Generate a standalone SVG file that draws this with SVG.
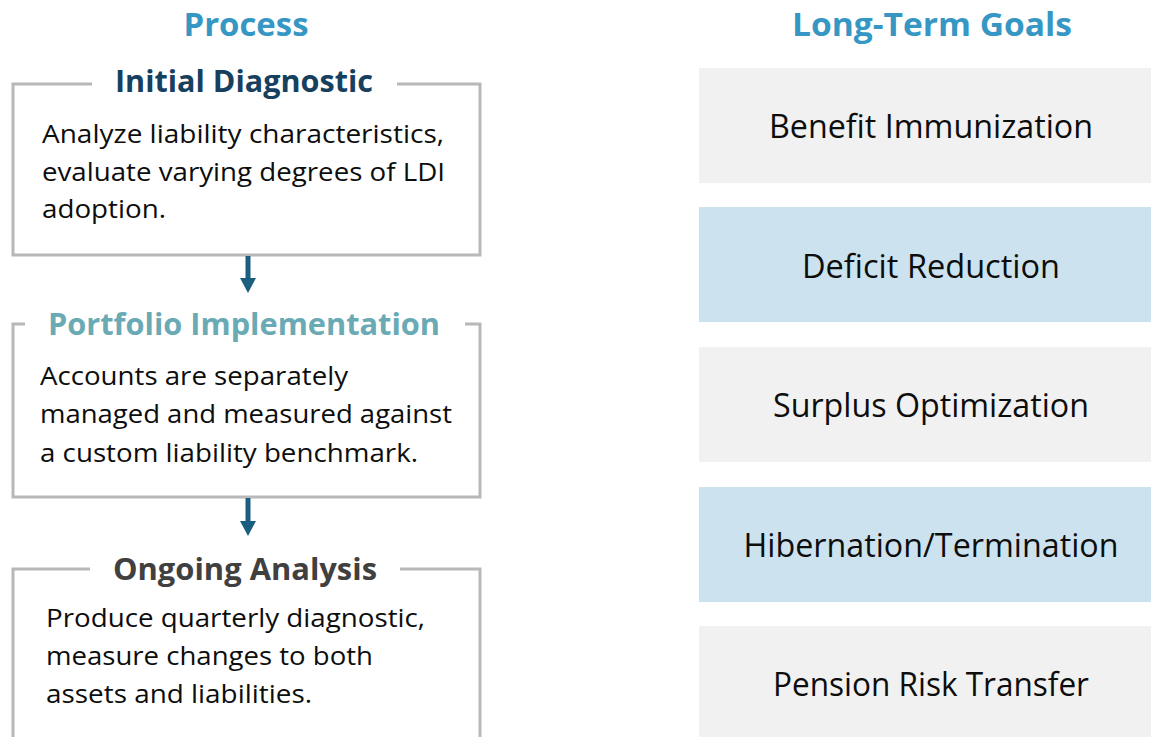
<svg xmlns="http://www.w3.org/2000/svg" width="1151" height="737" viewBox="0 0 1151 737">
<style>
  text { font-family: "Open Sans", "Noto Sans", "Liberation Sans", sans-serif; }
  .hdr { font-size: 32px; font-weight: bold; fill: #3797c4; text-anchor: middle; }
  .ttl { font-size: 31px; font-weight: bold; }
  .body { font-size: 26px; fill: #0d0d0d; }
  .goal { font-size: 32px; fill: #0d0d0d; text-anchor: middle; }
  .frame { fill: none; stroke: #b8b8b8; stroke-width: 3; }
  .gray { fill: #f1f1f1; }
  .blue { fill: #cce3ef; }
  .conn { stroke: #1b5f80; stroke-width: 5; fill: none; }
</style>
<defs>
  <marker id="arrow" markerUnits="userSpaceOnUse" viewBox="0 0 15 16" markerWidth="15" markerHeight="16" refX="5" refY="8" orient="auto">
    <path d="M0,0 L15,8 L0,16 Z" fill="#1b5f80"/>
  </marker>
</defs>
<rect width="1151" height="737" fill="#ffffff"/>

<g id="header-process"><text class="hdr" x="246" y="36" textLength="125" lengthAdjust="spacingAndGlyphs">Process</text></g>
<g id="header-goals"><text class="hdr" x="932" y="36" textLength="280" lengthAdjust="spacingAndGlyphs">Long-Term Goals</text></g>

<g id="initial-diagnostic">
  <path class="frame" d="M92,84 H13 V255 H480 V84 H397"/>
  <text class="ttl" x="115" y="92" fill="#17405f" textLength="258" lengthAdjust="spacingAndGlyphs">Initial Diagnostic</text>
  <text class="body" x="42" y="143" textLength="402" lengthAdjust="spacingAndGlyphs">Analyze liability characteristics,</text>
  <text class="body" x="42" y="181" textLength="403" lengthAdjust="spacingAndGlyphs">evaluate varying degrees of LDI</text>
  <text class="body" x="42" y="218" textLength="124" lengthAdjust="spacingAndGlyphs">adoption.</text>
</g>

<g id="portfolio-implementation">
  <path class="frame" d="M25,324 H13 V497 H480 V324 H465"/>
  <text class="ttl" x="48" y="335" fill="#6aaab5" textLength="392" lengthAdjust="spacingAndGlyphs">Portfolio Implementation</text>
  <text class="body" x="40" y="385" textLength="308" lengthAdjust="spacingAndGlyphs">Accounts are separately</text>
  <text class="body" x="40" y="423" textLength="412" lengthAdjust="spacingAndGlyphs">managed and measured against</text>
  <text class="body" x="40" y="462" textLength="378" lengthAdjust="spacingAndGlyphs">a custom liability benchmark.</text>
</g>

<g id="ongoing-analysis">
  <path class="frame" d="M90,569 H13 V740"/>
  <path class="frame" d="M400,569 H480 V740"/>
  <text class="ttl" x="113" y="580" fill="#404040" textLength="264" lengthAdjust="spacingAndGlyphs">Ongoing Analysis</text>
  <text class="body" x="46" y="627" textLength="379" lengthAdjust="spacingAndGlyphs">Produce quarterly diagnostic,</text>
  <text class="body" x="46" y="665" textLength="327" lengthAdjust="spacingAndGlyphs">measure changes to both</text>
  <text class="body" x="46" y="703" textLength="266" lengthAdjust="spacingAndGlyphs">assets and liabilities.</text>
</g>

<g id="connectors">
  <line class="conn" x1="248" y1="256" x2="248" y2="283" marker-end="url(#arrow)"/>
  <line class="conn" x1="248" y1="498" x2="248" y2="526" marker-end="url(#arrow)"/>
</g>

<g id="goal-benefit-immunization">
  <rect class="gray" x="699" y="68" width="452" height="115"/>
  <text class="goal" x="931" y="138" textLength="324" lengthAdjust="spacingAndGlyphs">Benefit Immunization</text>
</g>
<g id="goal-deficit-reduction">
  <rect class="blue" x="699" y="207" width="452" height="115"/>
  <text class="goal" x="931" y="278" textLength="258" lengthAdjust="spacingAndGlyphs">Deficit Reduction</text>
</g>
<g id="goal-surplus-optimization">
  <rect class="gray" x="699" y="347" width="452" height="115"/>
  <text class="goal" x="931" y="417" textLength="316" lengthAdjust="spacingAndGlyphs">Surplus Optimization</text>
</g>
<g id="goal-hibernation-termination">
  <rect class="blue" x="699" y="487" width="452" height="115"/>
  <text class="goal" x="931" y="557" textLength="375" lengthAdjust="spacingAndGlyphs">Hibernation/Termination</text>
</g>
<g id="goal-pension-risk-transfer">
  <rect class="gray" x="699" y="626" width="452" height="115"/>
  <text class="goal" x="931" y="696" textLength="316" lengthAdjust="spacingAndGlyphs">Pension Risk Transfer</text>
</g>
</svg>
